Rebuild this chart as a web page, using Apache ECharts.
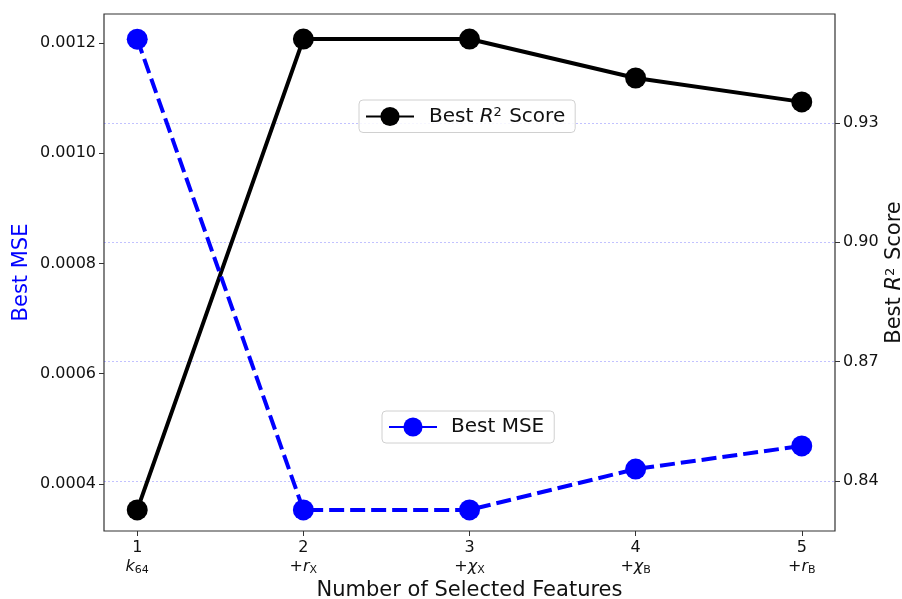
<!DOCTYPE html>
<html>
<head>
<meta charset="utf-8">
<script src="https://cdn.jsdelivr.net/npm/echarts@6/dist/echarts.min.js"></script>
<style>html,body{margin:0;padding:0;background:#fff}#c{width:902px;height:599px}</style>
</head>
<body>
<div id="c"></div>
<script>
var xValues = [1, 2, 3, 4, 5];
var tickTop = ['1', '2', '3', '4', '5'];
var tickBottom = ['{i|k}{s|64}', '+{i|r}{s|X}', '+{i|χ}{s|X}', '+{i|χ}{s|B}', '+{i|r}{s|B}'];
var mseValues = [0.001207, 0.000353, 0.000353, 0.000427, 0.000469];
var r2Values = [0.8327, 0.9511, 0.9511, 0.9413, 0.9353];
var mseTicks = [0.0004, 0.0006, 0.0008, 0.0010, 0.0012];
var r2Ticks = [0.84, 0.87, 0.90, 0.93];

var FONT = 'DejaVu Sans';
var chart = echarts.init(document.getElementById('c'));
function pairs(vals) { return xValues.map(function (x, i) { return [x, vals[i]]; }); }

chart.setOption({
  animation: false,
  textStyle: { fontFamily: FONT },
  grid: { left: 104, right: 67, top: 14, bottom: 68, containLabel: false, outerBoundsMode: 'none',
    show: true, borderColor: '#333', borderWidth: 1.2, backgroundColor: 'transparent' },
  legend: [
    {
      data: ['Best R2 Score'], left: 359, top: 100, orient: 'horizontal',
      itemWidth: 48, itemHeight: 24, padding: [6, 10, 6, 6],
      borderColor: '#d0d0d0', borderWidth: 1, borderRadius: 4, backgroundColor: 'rgba(255,255,255,0.85)',
      formatter: function () { return '{n|Best }{i|R}{p|2}{n| Score}'; },
      textStyle: { fontFamily: FONT, fontSize: 20, color: '#111', padding: [0, 0, 0, 10],
        rich: { n: { fontSize: 20, fontFamily: FONT, color: '#111' }, i: { fontSize: 20, fontStyle: 'italic', fontFamily: FONT, color: '#111' }, p: { fontSize: 13, fontFamily: FONT, color: '#111', verticalAlign: 'top', padding: [0, 1, 8, 0] } } }
    },
    {
      data: ['Best MSE'], left: 382, top: 411, orient: 'horizontal',
      itemWidth: 48, itemHeight: 24, padding: [6, 10, 6, 6],
      lineStyle: { type: 'solid' },
      borderColor: '#d0d0d0', borderWidth: 1, borderRadius: 4, backgroundColor: 'rgba(255,255,255,0.85)',
      textStyle: { fontFamily: FONT, fontSize: 20, color: '#111', padding: [0, 0, 0, 9] }
    }
  ],
  xAxis: {
    type: 'value', min: 0.8, max: 5.2,
    name: 'Number of Selected Features', nameLocation: 'middle', nameGap: 49, nameMoveOverlap: false,
    nameTextStyle: { fontFamily: FONT, fontSize: 21, color: '#111' },
    axisLine: { show: false },
    axisTick: { show: true, length: 5, lineStyle: { color: '#333' }, customValues: xValues },
    splitLine: { show: false },
    axisLabel: {
      customValues: xValues, margin: 7, color: '#111', fontSize: 16, fontFamily: FONT, lineHeight: 19,
      formatter: function (v) {
        var i = xValues.indexOf(Math.round(v));
        return i < 0 ? '' : '{t|' + tickTop[i] + '}\n' + tickBottom[i];
      },
      rich: {
        t: { fontSize: 16, fontFamily: FONT, color: '#111', lineHeight: 19 },
        i: { fontSize: 16, fontStyle: 'italic', fontFamily: FONT, color: '#111', lineHeight: 19 },
        s: { fontSize: 11, fontFamily: FONT, color: '#111', verticalAlign: 'bottom', lineHeight: 19, padding: [6, 0, 0, 0] }
      }
    }
  },
  yAxis: [
    {
      type: 'value', position: 'left', min: 0.0003147, max: 0.0012526,
      name: 'Best MSE', nameLocation: 'middle', nameGap: 72, nameRotate: 90, nameMoveOverlap: false,
      nameTextStyle: { fontFamily: FONT, fontSize: 21, color: '#0000ff' },
      axisLine: { show: false },
      axisTick: { show: true, length: 5, lineStyle: { color: '#333' }, customValues: mseTicks },
      splitLine: { show: false },
      axisLabel: { customValues: mseTicks, color: '#111', fontSize: 16, fontFamily: FONT, margin: 8,
        formatter: function (v) { return v.toFixed(4); } }
    },
    {
      type: 'value', position: 'right', min: 0.8274, max: 0.9574,
      name: '{n|Best }{i|R}{p|2}{n| Score}', nameLocation: 'middle', nameGap: 49, nameRotate: 90, nameMoveOverlap: false,
      nameTextStyle: { fontFamily: FONT, fontSize: 21, color: '#111',
        rich: { n: { fontSize: 21, fontFamily: FONT, color: '#111' }, i: { fontSize: 21, fontStyle: 'italic', fontFamily: FONT, color: '#111' }, p: { fontSize: 13, fontFamily: FONT, color: '#111', verticalAlign: 'top', padding: [0, 1, 8, 0] } } },
      axisLine: { show: false },
      axisTick: { show: true, length: 5, lineStyle: { color: '#333' }, customValues: r2Ticks },
      splitLine: { show: true, lineStyle: { color: 'rgba(0,0,255,0.3)', width: 0.8, type: [2, 2] } },
      axisLabel: { customValues: r2Ticks, color: '#111', fontSize: 16, fontFamily: FONT, margin: 8,
        formatter: function (v) { return v.toFixed(2); } }
    }
  ],
  series: [
    {
      name: 'Best R2 Score', type: 'line', yAxisIndex: 1, data: pairs(r2Values),
      symbol: 'circle', symbolSize: 21, color: '#000',
      lineStyle: { color: '#000', width: 4 }, itemStyle: { color: '#000' }, z: 3
    },
    {
      name: 'Best MSE', type: 'line', yAxisIndex: 0, data: pairs(mseValues),
      symbol: 'circle', symbolSize: 21, color: '#0000ff',
      lineStyle: { color: '#0000ff', width: 4, type: [15, 6] }, itemStyle: { color: '#0000ff' }, z: 4
    }
  ]
});
</script>
</body>
</html>
